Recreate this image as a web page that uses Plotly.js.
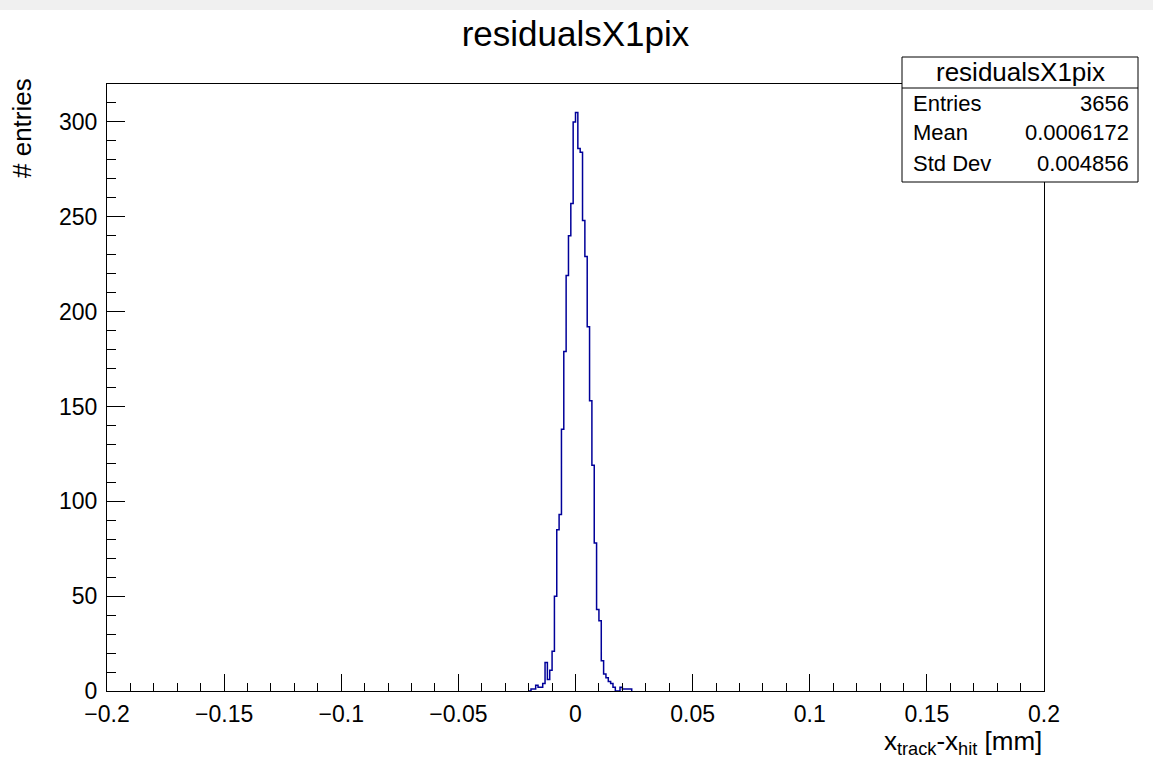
<!DOCTYPE html>
<html>
<head>
<meta charset="utf-8">
<script src="https://cdn.plot.ly/plotly-3.0.1.min.js"></script>
<style>
  html, body { margin: 0; padding: 0; background: #ffffff; }
  #chart { width: 1153px; height: 765px; }
</style>
</head>
<body>
<div id="chart"></div>
<script>
// ---- data ----
const histTitle = "residualsX1pix";
const binLow = -0.020;      // low edge of the first listed bin
const binWidth = 0.001;     // 400 bins over [-0.2, 0.2]
const counts = [
  0, 1, 1, 3, 2, 2, 4, 15, 6, 11,          // -0.020 .. -0.011
  21, 50, 85, 93, 138, 179, 219, 240, 257, 300, // -0.010 .. -0.001
  305, 286, 284, 248, 229, 192, 153, 119, 78, 43, // 0.000 .. 0.009
  37, 16, 9, 7, 5, 4, 2, 0, 0, 2,          // 0.010 .. 0.019
  1, 1, 1, 1                               // 0.020 .. 0.023
];
const xRange = [-0.2, 0.2];
const yRange = [0, 320];
const statLabels = ["Entries", "Mean", "Std Dev"];
const statValues = ["3656", "0.0006172", "0.004856"];
const xTitle = "x<sub>track</sub>-x<sub>hit</sub> [mm]";
const yTitle = "# entries";

// ---- build step outline from the bin contents ----
const xs = [binLow], ys = [0];
for (let i = 0; i < counts.length; i++) {
  xs.push(binLow + i * binWidth);
  ys.push(counts[i]);
}
xs.push(binLow + counts.length * binWidth);
ys.push(0);

// ---- layout geometry helpers (pixel -> paper) ----
const L = 107, R = 1044, T = 84, B = 691;
const xp = px => (px - L) / (R - L);
const yp = py => (B - py) / (B - T);

const FONT = "Liberation Sans, Arial, Helvetica, sans-serif";

const trace = {
  type: "scatter",
  mode: "lines",
  x: xs,
  y: ys,
  line: { shape: "hv", color: "#000099", width: 1.5 },
  hoverinfo: "skip",
  cliponaxis: true
};

const shapes = [
  // thin gray band at the very top of the canvas
  { type: "rect", xref: "paper", yref: "paper", x0: xp(0), x1: xp(1153), y0: yp(10), y1: yp(0),
    fillcolor: "#f0f0f0", line: { width: 0 }, layer: "below" },
  // stats box
  { type: "rect", xref: "paper", yref: "paper", x0: xp(902), x1: xp(1138), y0: yp(182), y1: yp(57),
    fillcolor: "#ffffff", line: { color: "#000000", width: 1 } },
  { type: "line", xref: "paper", yref: "paper", x0: xp(902), x1: xp(1138), y0: yp(88), y1: yp(88),
    line: { color: "#000000", width: 1 } }
];

const annotations = [
  { xref: "paper", yref: "paper", x: xp(1020), y: yp(72), text: histTitle, showarrow: false,
    xanchor: "center", yanchor: "middle", font: { family: FONT, size: 26, color: "#000" } },
  { xref: "paper", yref: "paper", x: 1, y: yp(742), text: xTitle, showarrow: false,
    xanchor: "right", yanchor: "middle", font: { family: FONT, size: 26, color: "#000" } },
  { xref: "paper", yref: "paper", x: xp(22), y: yp(128), text: yTitle, showarrow: false,
    textangle: -90, xanchor: "center", yanchor: "middle", font: { family: FONT, size: 26, color: "#000" } }
];
const rowY = [103, 133, 163];
for (let i = 0; i < statLabels.length; i++) {
  annotations.push({ xref: "paper", yref: "paper", x: xp(911), y: yp(rowY[i]), text: statLabels[i],
    showarrow: false, xanchor: "left", yanchor: "middle", font: { family: FONT, size: 22, color: "#000" } });
  annotations.push({ xref: "paper", yref: "paper", x: xp(1131), y: yp(rowY[i]), text: statValues[i],
    showarrow: false, xanchor: "right", yanchor: "middle", font: { family: FONT, size: 22, color: "#000" } });
}

const layout = {
  width: 1153, height: 765,
  margin: { l: L, r: 1153 - R, t: T, b: 765 - B, pad: 0 },
  paper_bgcolor: "#ffffff",
  plot_bgcolor: "#ffffff",
  showlegend: false,
  title: { text: histTitle, x: 0.5, xref: "paper", xanchor: "center", y: 1 - 34 / 765, yanchor: "middle",
    font: { family: FONT, size: 35, color: "#000" } },
  xaxis: {
    range: xRange, tickmode: "linear", tick0: 0, dtick: 0.05,
    ticks: "inside", ticklen: 17, tickwidth: 1, tickcolor: "#000",
    minor: { tickmode: "linear", tick0: 0, dtick: 0.01, ticks: "inside", ticklen: 8, tickwidth: 1, tickcolor: "#000" },
    showline: true, linecolor: "#000", linewidth: 1, mirror: true,
    showgrid: false, zeroline: false,
    tickfont: { family: FONT, size: 23, color: "#000" },
    ticklabelstandoff: 2
  },
  yaxis: {
    range: yRange, tickmode: "linear", tick0: 0, dtick: 50,
    ticks: "inside", ticklen: 18, tickwidth: 1, tickcolor: "#000",
    minor: { tickmode: "linear", tick0: 0, dtick: 10, ticks: "inside", ticklen: 9, tickwidth: 1, tickcolor: "#000" },
    showline: true, linecolor: "#000", linewidth: 1, mirror: true,
    showgrid: false, zeroline: false,
    tickfont: { family: FONT, size: 23, color: "#000" },
    ticklabelstandoff: 4
  },
  shapes: shapes,
  annotations: annotations
};

Plotly.newPlot("chart", [trace], layout, { staticPlot: true, displayModeBar: false });
</script>
</body>
</html>
